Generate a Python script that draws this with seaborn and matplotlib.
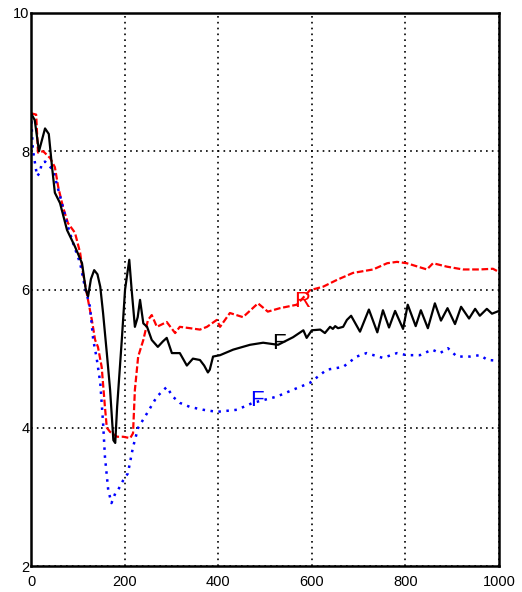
import matplotlib
matplotlib.use("Agg")
import matplotlib.pyplot as plt
import seaborn as sns
import pandas as pd
from matplotlib.ticker import MultipleLocator

# ---- data ----
black_x = [0, 8, 17, 30, 38, 45, 51, 62, 77, 94, 109, 117, 122, 128, 135, 142, 148, 154, 162, 169,
           176, 180, 184, 194, 201, 210, 215, 222, 228, 233, 240, 248, 258, 271, 282, 290, 301,
           318, 333, 346, 361, 370, 378, 382, 389, 404, 432, 468, 496, 528, 560, 582, 589, 600,
           618, 628, 639, 645, 650, 656, 667, 675, 684, 703, 722, 740, 752, 765, 778, 795, 805,
           822, 833, 848, 863, 876, 890, 906, 919, 936, 949, 959, 974, 985, 1000]
black_y = [8.55, 8.45, 8.0, 8.33, 8.25, 7.77, 7.4, 7.25, 6.86, 6.62, 6.38, 6.0, 5.9, 6.15, 6.28,
           6.22, 6.04, 5.66, 5.08, 4.55, 3.82, 3.78, 4.3, 5.27, 6.0, 6.43, 6.0, 5.46, 5.6, 5.85,
           5.51, 5.46, 5.27, 5.17, 5.25, 5.3, 5.08, 5.08, 4.9, 5.0, 4.98, 4.9, 4.8, 4.84, 5.03,
           5.05, 5.13, 5.2, 5.23, 5.2, 5.31, 5.41, 5.3, 5.41,
           5.42, 5.37, 5.46, 5.43, 5.47, 5.44, 5.46, 5.56, 5.62, 5.39, 5.71, 5.38, 5.7, 5.45,
           5.69, 5.43, 5.78, 5.47, 5.7, 5.44, 5.8, 5.55, 5.73, 5.5, 5.75, 5.58, 5.72, 5.62, 5.72,
           5.65, 5.69]

red_x = [0, 11, 15, 26, 41, 51, 58, 68, 79, 94, 105, 111, 119, 130, 137, 143, 151, 158, 162, 169,
         184, 197, 212, 218, 222, 229, 240, 250, 258, 269, 290, 308, 318, 340, 361, 376, 397,
         404, 425, 453, 485, 506, 532, 568, 596, 624, 654, 688, 731, 761, 782, 803, 846, 859,
         889, 923, 959, 987, 998, 1000]
red_y = [8.55, 8.53, 7.98, 8.0, 7.9, 7.77, 7.49, 7.2, 6.96, 6.82, 6.53, 6.24, 5.95, 5.56, 5.27,
         5.17, 4.88, 4.3, 4.0, 3.94, 3.87, 3.87, 3.85, 3.92, 4.55, 5.03, 5.27, 5.56, 5.63, 5.46,
         5.53, 5.37, 5.46, 5.44, 5.42, 5.46, 5.56, 5.46, 5.66, 5.6, 5.8, 5.68, 5.73, 5.78, 5.99,
         6.04, 6.14, 6.24, 6.29, 6.38, 6.4, 6.38, 6.29, 6.38, 6.33, 6.29, 6.29, 6.3, 6.26, 6.27]

blue_x = [0, 4, 13, 19, 23, 30, 47, 66, 79, 90, 105, 115, 126, 133, 140, 148, 154, 158, 165, 172,
          180, 186, 197, 207, 218, 229, 248, 269, 290, 303, 318, 340, 368, 397, 440, 474, 525,
          560, 596, 632, 667, 696, 717, 752, 782, 803, 831, 857, 874, 891, 910, 938, 959, 976,
          998, 1000]
blue_y = [8.55, 8.02, 7.64, 7.69, 7.83, 7.85, 7.73, 7.25, 6.91, 6.67, 6.38, 6.04, 5.75, 5.27,
          5.02, 4.65, 4.07, 3.58, 3.1, 2.91, 3.05, 3.1, 3.24, 3.34, 3.72, 4.0, 4.21, 4.45, 4.59,
          4.45, 4.36, 4.3, 4.26, 4.23, 4.26, 4.36, 4.45, 4.55, 4.65, 4.84, 4.88, 5.03, 5.08, 5.01,
          5.08, 5.05, 5.05, 5.13, 5.08, 5.15, 5.03, 5.03, 5.05, 4.98, 4.97, 4.97]

label_text = ["R", "F", "F"]
label_x = [579, 530, 482]
label_y = [5.82, 5.22, 4.4]
label_colors = ["red", "black", "blue"]

x_ticks = [0, 200, 400, 600, 800, 1000]
y_ticks = [2, 4, 6, 8, 10]

# ---- plot ----
sns.set_style("white")
plt.rcParams["font.family"] = ["Liberation Sans", "DejaVu Sans"]

fig = plt.figure(figsize=(5.22, 5.92), dpi=100)
ax = fig.add_axes([31 / 522, 26 / 592, 468 / 522, 553 / 592])

df_black = pd.DataFrame({"x": black_x, "y": black_y})
df_red = pd.DataFrame({"x": red_x, "y": red_y})
df_blue = pd.DataFrame({"x": blue_x, "y": blue_y})

sns.lineplot(data=df_red, x="x", y="y", ax=ax, color="red", lw=1.6,
             linestyle=(0, (3, 1.2)), estimator=None, sort=False)
sns.lineplot(data=df_blue, x="x", y="y", ax=ax, color="blue", lw=1.8,
             linestyle=(0, (1, 2.2)), estimator=None, sort=False)
sns.lineplot(data=df_black, x="x", y="y", ax=ax, color="black", lw=1.6,
             estimator=None, sort=False)

for t, lx, ly, c in zip(label_text, label_x, label_y, label_colors):
    ax.text(lx, ly, t, color=c, fontsize=16, ha="center", va="center")

ax.set_xlim(0, 1000)
ax.set_ylim(2, 10)
ax.set_xticks(x_ticks)
ax.set_yticks(y_ticks)
ax.xaxis.set_minor_locator(MultipleLocator(100))
ax.yaxis.set_minor_locator(MultipleLocator(1))
ax.set_xlabel("")
ax.set_ylabel("")
ax.grid(True, which="major", color="black", linestyle=(0, (1, 2.5)), linewidth=1.2)
ax.tick_params(which="major", direction="in", length=6, width=1.2, labelsize=10.5,
               colors="black")
ax.tick_params(which="minor", direction="in", length=4, width=1.2, colors="black")
ax.tick_params(axis="y", pad=1)
ax.tick_params(axis="x", pad=6.5)
for s in ax.spines.values():
    s.set_color("black")
    s.set_linewidth(1.8)
    s.set_visible(True)

fig.savefig("out.png", dpi=100)
